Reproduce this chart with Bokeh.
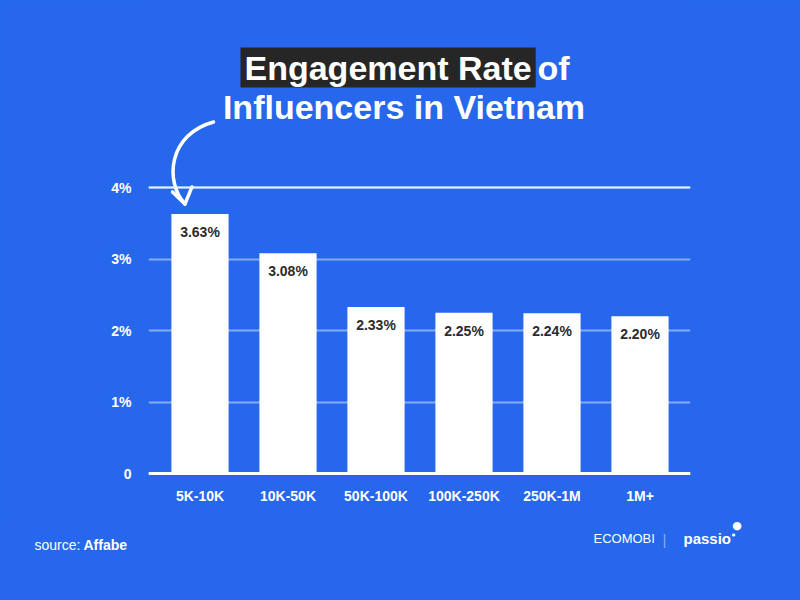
from bokeh.plotting import figure
from bokeh.models import Range1d, FixedTicker, Span, Label, ColumnDataSource
from bokeh.core.properties import value
from bokeh.embed import file_html
from bokeh.resources import INLINE

# ---------------- data ----------------
categories = ["5K-10K", "10K-50K", "50K-100K", "100K-250K", "250K-1M", "1M+"]
rates = [3.63, 3.08, 2.33, 2.25, 2.24, 2.20]
y_ticks = [0, 1, 2, 3, 4]
y_tick_labels = ["0", "1%", "2%", "3%", "4%"]
title_highlight = "Engagement Rate"
title_rest = "of"
title_line2 = "Influencers in Vietnam"
source_prefix = "source:"
source_name = "Affabe"
brand_left = "ECOMOBI"
brand_right = "passio"

# ---------------- styling ----------------
BG = "#2667EB"
FONT = "Liberation Sans"
W = 800
H_MAIN, H_FOOT = 520, 70
FOOT_GAP = 5.5   # gap the browser leaves between the two roots
ML, MR, MT, MB = 148, 110, 0, 43
PX_X = 88.0      # pixels per category
PX_Y = 71.5      # pixels per 1 %
X0_OFF = 51.5    # pixels from frame left to first category
Y0_OFF = 4.0     # pixels from frame bottom to zero line

frame_w = W - ML - MR
frame_h = H_MAIN - MT - MB
x_start = -X0_OFF / PX_X
y_start = -Y0_OFF / PX_Y

p = figure(width=W, height=H_MAIN, output_backend="svg", toolbar_location=None,
           x_range=Range1d(x_start, x_start + frame_w / PX_X),
           y_range=Range1d(y_start, y_start + frame_h / PX_Y),
           min_border_left=ML, min_border_right=MR,
           min_border_top=MT, min_border_bottom=MB,
           background_fill_color=BG, border_fill_color=BG,
           outline_line_color=None)

# page pixel -> data
FRAME_LEFT_PAGE = ML
FRAME_BOTTOM_PAGE = MT + frame_h
def dx(px):
    return x_start + (px - FRAME_LEFT_PAGE) / PX_X
def dy(py):
    return y_start + (FRAME_BOTTOM_PAGE - py) / PX_Y

# axes
for ax in (p.xaxis, p.yaxis):
    ax.axis_line_color = None
    ax.major_tick_line_color = None
    ax.minor_tick_line_color = None
    ax.major_tick_out = 0
    ax.major_tick_in = 0
    ax.major_label_text_color = "white"
    ax.major_label_text_font = FONT
    ax.major_label_text_font_style = "bold"
    ax.major_label_text_font_size = "14px"

p.xaxis.ticker = FixedTicker(ticks=list(range(len(categories))))
p.xaxis.major_label_overrides = {i: c for i, c in enumerate(categories)}
p.xaxis.major_label_standoff = 10
p.yaxis.ticker = FixedTicker(ticks=y_ticks)
p.yaxis.major_label_overrides = {t: l for t, l in zip(y_ticks, y_tick_labels)}
p.yaxis.major_label_standoff = 17

p.xgrid.visible = False
p.ygrid.grid_line_color = "white"
p.ygrid.grid_line_alpha = 0.45
p.ygrid.grid_line_width = 2

p.add_layout(Span(location=y_ticks[-1], dimension="width",
                  line_color="#e6f2ff", line_width=2))
p.add_layout(Span(location=0, dimension="width",
                  line_color="white", line_width=3))

# bars
src = ColumnDataSource(dict(
    x=list(range(len(categories))),
    top=rates,
    label=[f"{v:.2f}%" for v in rates],
))
p.vbar(x="x", top="top", bottom=0, width=0.65, source=src,
       fill_color="white", line_color=None)
p.text(x="x", y="top", text="label", source=src, y_offset=18,
       text_align="center", text_baseline="middle",
       text_color="#2b2b2b", text_font=value(FONT),
       text_font_style="bold", text_font_size="14px")

# hand-drawn arrow pointing to the first bar (pixel offsets from its top)
def off(ddx, ddy):
    return 0 + ddx / PX_X, rates[0] - ddy / PX_Y
sx0, sy0 = off(13.5, -92)
c0x, c0y = off(-31, -80)
c1x, c1y = off(-36, -33)
tx, ty = off(-15, -10)
w1x, w1y = off(-27.5, -22)
w2x, w2y = off(-8, -27)
p.bezier(x0=[sx0], y0=[sy0], x1=[tx], y1=[ty], cx0=[c0x], cy0=[c0y],
         cx1=[c1x], cy1=[c1y], line_color="white", line_width=3.5,
         line_cap="round")
p.segment(x0=[tx, tx], y0=[ty, ty], x1=[w1x, w2x], y1=[w1y, w2y],
          line_color="white", line_width=3.5, line_cap="round")

# title
p.add_layout(Label(x=dx(240), y=dy(67), text=title_highlight,
                   text_align="left", text_baseline="alphabetic",
                   text_color="white", text_font=FONT, text_font_style="bold",
                   text_font_size="34px", background_fill_color="#262626",
                   padding=(4, 1)))
p.add_layout(Label(x=dx(537), y=dy(67), text=title_rest,
                   text_align="left", text_baseline="alphabetic",
                   text_color="white", text_font=FONT, text_font_style="bold",
                   text_font_size="34px"))
p.add_layout(Label(x=dx(403.5), y=dy(106), text=title_line2,
                   text_align="center", text_baseline="alphabetic",
                   text_color="white", text_font=FONT, text_font_style="bold",
                   text_font_size="34px"))

# ---------------- footer (page pixel coordinates) ----------------
FOOT_TOP = H_MAIN + FOOT_GAP
f = figure(width=W, height=H_FOOT, output_backend="svg", toolbar_location=None,
           x_range=Range1d(0, W), y_range=Range1d(FOOT_TOP + H_FOOT, FOOT_TOP),
           x_axis_location=None, y_axis_location=None,
           min_border=0, background_fill_color=BG, border_fill_color=BG,
           outline_line_color=None)
f.grid.visible = False

f.add_layout(Label(x=34, y=550, text=source_prefix,
                   text_align="left", text_baseline="alphabetic",
                   text_color="white", text_font=FONT,
                   text_font_size="14px"))
f.add_layout(Label(x=83, y=550, text=source_name,
                   text_align="left", text_baseline="alphabetic",
                   text_color="white", text_font=FONT, text_font_style="bold",
                   text_font_size="14px"))
f.add_layout(Label(x=593, y=543, text=brand_left,
                   text_align="left", text_baseline="alphabetic",
                   text_color="white", text_font=FONT,
                   text_font_size="13px"))
f.add_layout(Label(x=664, y=544.5, text="|",
                   text_align="center", text_baseline="alphabetic",
                   text_color="white", text_alpha=0.45, text_font=FONT,
                   text_font_size="15px"))
f.add_layout(Label(x=683, y=543, text=brand_right,
                   text_align="left", text_baseline="alphabetic",
                   text_color="white", text_font=FONT, text_font_style="bold",
                   text_font_size="15px"))
f.add_layout(Label(x=736.5, y=530.5, text="\u25cf",
                   text_align="center", text_baseline="middle",
                   text_color="white", text_font="DejaVu Sans",
                   text_font_size="11px"))
f.add_layout(Label(x=733, y=539.5, text="\u25cf",
                   text_align="center", text_baseline="middle",
                   text_color="white", text_font="DejaVu Sans",
                   text_font_size="4px"))

html = file_html([p, f], INLINE)
html = html.replace("</head>",
                    f"<style>html, body {{ background-color: {BG}; }}</style></head>", 1)
open("out.html", "w").write(html)
